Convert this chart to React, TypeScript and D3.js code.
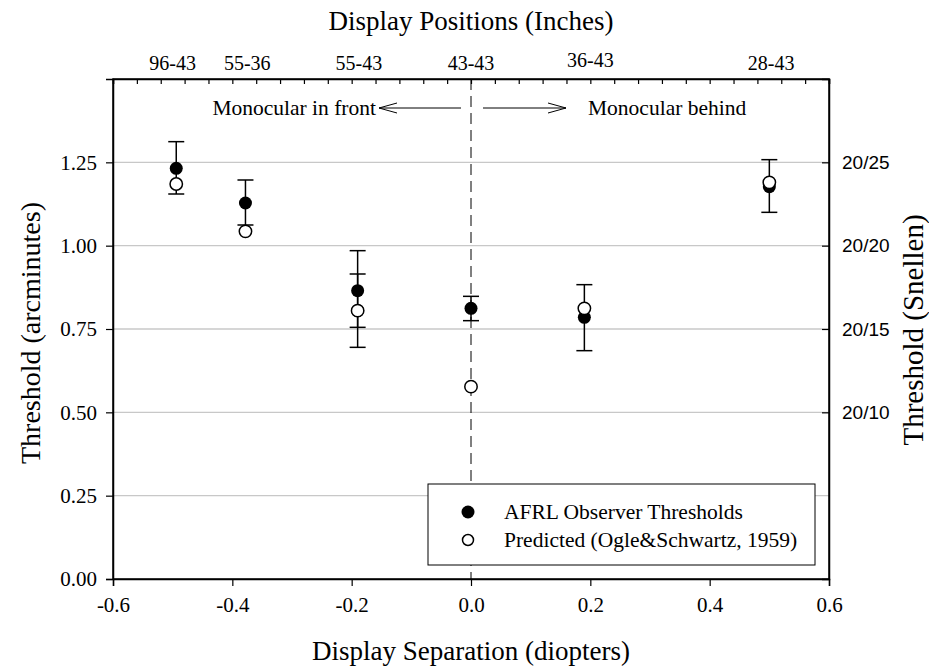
import React, { useEffect, useRef } from 'react';
import * as d3 from 'd3';

// separation in diopters for each display condition
const observedX = [-0.494, -0.378, -0.19, -0.19, 0.0, 0.19, 0.5];
const observedY = [1.232, 1.128, 0.865, 0.805, 0.812, 0.785, 1.177];
const observedLow = [1.155, 1.062, 0.755, 0.695, 0.775, 0.685, 1.1];
const observedHigh = [1.312, 1.197, 0.985, 0.915, 0.848, 0.883, 1.258];

const predictedX = [-0.494, -0.378, -0.19, 0.0, 0.19, 0.5];
const predictedY = [1.185, 1.043, 0.805, 0.577, 0.812, 1.19];

const positionLabels = ['96-43', '55-36', '55-43', '43-43', '36-43', '28-43'];
const positionAt = [-0.5, -0.375, -0.188, 0, 0.2, 0.503];

const xTicks = [-0.6, -0.4, -0.2, 0.0, 0.2, 0.4, 0.6];
const yTicks = [0, 0.25, 0.5, 0.75, 1.0, 1.25];
const snellenLabels = ['20/10', '20/15', '20/20', '20/25'];
const snellenAt = [0.5, 0.75, 1.0, 1.25];

const serif = '"Liberation Serif", "Times New Roman", serif';
const sans = '"Liberation Sans", Arial, sans-serif';

const App: React.FC = () => {
  const ref = useRef<SVGSVGElement | null>(null);

  useEffect(() => {
    const svg = d3.select(ref.current);
    svg.selectAll('*').remove();

    const left = 113, right = 829, top = 79, bottom = 579;

    const x = d3.scaleLinear().domain([-0.6, 0.6]).range([left, right]);
    const y = d3.scaleLinear().domain([0, 1.5]).range([bottom, top]);

    // grid
    svg
      .append('g')
      .selectAll('line')
      .data(yTicks.filter((d) => d > 0))
      .enter()
      .append('line')
      .attr('x1', left)
      .attr('x2', right)
      .attr('y1', (d) => y(d))
      .attr('y2', (d) => y(d))
      .attr('stroke', '#c8c8c8')
      .attr('stroke-width', 1.3);

    // dashed line at zero
    svg
      .append('line')
      .attr('x1', x(0))
      .attr('x2', x(0))
      .attr('y1', top)
      .attr('y2', bottom)
      .attr('stroke', '#000')
      .attr('stroke-width', 1)
      .attr('stroke-dasharray', '11,6');

    const minorX = d3.range(-0.6, 0.6001, 0.04);
    const minorY = d3.range(0, 1.5001, 0.05);

    // bottom axis
    const xb = svg.append('g').attr('transform', `translate(0,${bottom})`);
    xb.call(
      d3.axisBottom(x).tickValues(minorX).tickSize(5).tickFormat(() => '')
    );
    xb.call(
      d3
        .axisBottom(x)
        .tickValues(xTicks)
        .tickSize(7)
        .tickPadding(11)
        .tickFormat((d) => d3.format('.1f')(d as number).replace('−', '-'))
    );
    xb.selectAll('text').style('font-family', serif).style('font-size', '21px').attr('fill', '#000');

    // top axis (ticks inside)
    const xt = svg.append('g').attr('transform', `translate(0,${top})`);
    xt.call(d3.axisBottom(x).tickValues(minorX).tickSize(5).tickFormat(() => ''));

    // left axis
    const yl = svg.append('g').attr('transform', `translate(${left},0)`);
    yl.call(d3.axisLeft(y).tickValues(minorY).tickSize(5).tickFormat(() => ''));
    yl.call(
      d3
        .axisLeft(y)
        .tickValues(yTicks)
        .tickSize(7)
        .tickPadding(9)
        .tickFormat(d3.format('.2f'))
    );
    yl.selectAll('text').style('font-family', serif).style('font-size', '21px').attr('fill', '#000');

    // right axis (ticks inside, snellen labels)
    const yr = svg.append('g').attr('transform', `translate(${right},0)`);
    yr.call(d3.axisLeft(y).tickValues(minorY).tickSize(5).tickFormat(() => ''));
    yr.call(d3.axisLeft(y).tickValues(snellenAt).tickSize(7).tickFormat(() => ''));
    svg.selectAll('.domain').attr('stroke-width', 1.5);
    svg.selectAll('.tick line').attr('stroke-width', 1.2);

    svg
      .append('g')
      .selectAll('text')
      .data(snellenAt)
      .enter()
      .append('text')
      .attr('x', right + 13)
      .attr('y', (d) => y(d))
      .attr('dy', '0.35em')
      .style('font-family', sans)
      .style('font-size', '19px')
      .text((d, i) => snellenLabels[i]);

    // frame
    svg
      .append('rect')
      .attr('x', left)
      .attr('y', top)
      .attr('width', right - left)
      .attr('height', bottom - top)
      .attr('fill', 'none')
      .attr('stroke', '#000')
      .attr('stroke-width', 1.5);

    // top labels
    svg
      .append('g')
      .selectAll('text')
      .data(positionLabels)
      .enter()
      .append('text')
      .attr('x', (d, i) => x(positionAt[i]))
      .attr('y', (d) => (d === '36-43' ? 67 : 70))
      .attr('text-anchor', 'middle')
      .style('font-family', serif)
      .style('font-size', '20px')
      .text((d) => d);

    // titles
    const title = (t: string, tx: number, ty: number, rot: number, size: number) =>
      svg
        .append('text')
        .attr('transform', `translate(${tx},${ty}) rotate(${rot})`)
        .attr('text-anchor', 'middle')
        .style('font-family', serif)
        .style('font-size', `${size}px`)
        .text(t);

    title('Display Positions (Inches)', 471, 30, 0, 27);
    title('Display Separation (diopters)', 471, 660, 0, 27);
    title('Threshold (arcminutes)', 40, 333, -90, 28);
    title('Threshold (Snellen)', 923, 330, -90, 29);

    // annotation
    svg
      .append('text')
      .attr('x', 376)
      .attr('y', 115)
      .attr('text-anchor', 'end')
      .style('font-family', serif)
      .style('font-size', '21.5px')
      .text('Monocular in front');
    svg
      .append('text')
      .attr('x', 588)
      .attr('y', 115)
      .style('font-family', serif)
      .style('font-size', '21.5px')
      .text('Monocular behind');
    const arrow = (x1: number, x2: number) => {
      const ay = 108;
      const dir = x2 > x1 ? -1 : 1;
      svg
        .append('path')
        .attr('d', `M${x1},${ay}L${x2},${ay}M${x2 + dir * 18},${ay - 5}L${x2},${ay}L${x2 + dir * 18},${ay + 5}`)
        .attr('fill', 'none')
        .attr('stroke', '#000')
        .attr('stroke-width', 1);
    };
    arrow(461, 379);
    arrow(483, 566);

    // error bars
    const eb = svg.append('g').attr('stroke', '#000').attr('stroke-width', 1.5);
    observedX.forEach((vx, i) => {
      const cx = x(vx);
      eb.append('line').attr('x1', cx).attr('x2', cx).attr('y1', y(observedLow[i])).attr('y2', y(observedHigh[i]));
      [observedLow[i], observedHigh[i]].forEach((v) => {
        eb.append('line').attr('x1', cx - 8).attr('x2', cx + 8).attr('y1', y(v)).attr('y2', y(v));
      });
    });

    // observed points
    svg
      .append('g')
      .selectAll('circle')
      .data(observedX)
      .enter()
      .append('circle')
      .attr('cx', (d) => x(d))
      .attr('cy', (d, i) => y(observedY[i]))
      .attr('r', 6.5)
      .attr('fill', '#000');

    // predicted points
    svg
      .append('g')
      .selectAll('circle')
      .data(predictedX)
      .enter()
      .append('circle')
      .attr('cx', (d) => x(d))
      .attr('cy', (d, i) => y(predictedY[i]))
      .attr('r', 6.2)
      .attr('fill', '#fff')
      .attr('stroke', '#000')
      .attr('stroke-width', 1.5);

    // legend
    const lg = svg.append('g');
    lg.append('rect')
      .attr('x', 428)
      .attr('y', 484)
      .attr('width', 387)
      .attr('height', 81)
      .attr('fill', '#fff')
      .attr('stroke', '#000')
      .attr('stroke-width', 1);
    lg.append('circle').attr('cx', 468).attr('cy', 512).attr('r', 6.5).attr('fill', '#000');
    lg.append('circle')
      .attr('cx', 468)
      .attr('cy', 540)
      .attr('r', 5.5)
      .attr('fill', '#fff')
      .attr('stroke', '#000')
      .attr('stroke-width', 1.5);
    lg.append('text')
      .attr('x', 504)
      .attr('y', 519)
      .style('font-family', serif)
      .style('font-size', '21.5px')
      .text('AFRL Observer Thresholds');
    lg.append('text')
      .attr('x', 504)
      .attr('y', 547)
      .style('font-family', serif)
      .style('font-size', '21.5px')
      .text('Predicted (Ogle&Schwartz, 1959)');
  }, []);

  return (
    <svg
      ref={ref}
      width={929}
      height={669}
      style={{ position: 'absolute', left: 0, top: 0, background: '#fff' }}
    ></svg>
  );
};

export default App;
